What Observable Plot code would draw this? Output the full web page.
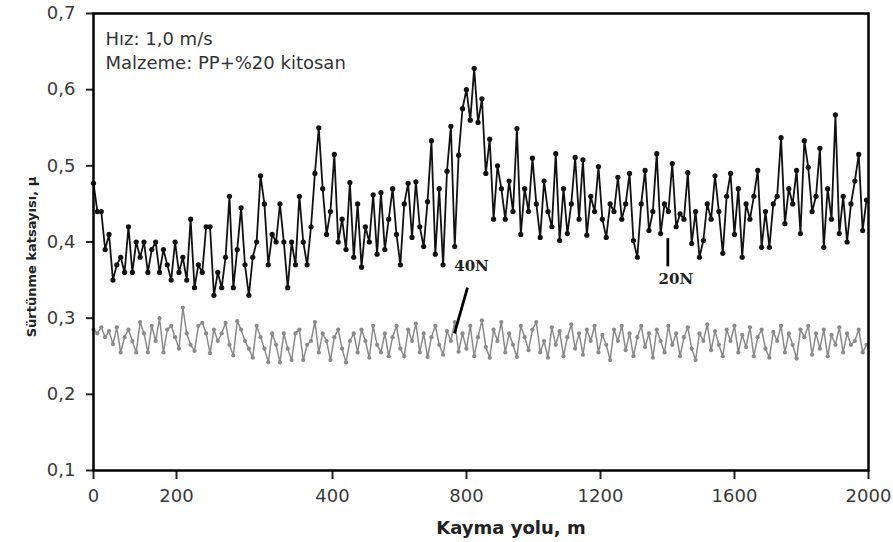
<!DOCTYPE html>
<html><head><meta charset="utf-8">
<script src="https://cdn.jsdelivr.net/npm/d3@7"></script>
<script src="https://cdn.jsdelivr.net/npm/@observablehq/plot@0.6"></script>
<style>
body{margin:0;background:#fff}
#chart svg [aria-label^="x-axis"] line, #chart svg [aria-label^="y-axis"] line,
#chart svg [aria-label="x-axis tick"] path, #chart svg [aria-label="y-axis tick"] path {stroke-width:2px; stroke:#222}
</style>
</head><body><div id="chart"></div>
<script>
// ---- data ----
const xTicks = [0, 200, 400, 800, 1200, 1600, 2000];
const yTicks = [0.1, 0.2, 0.3, 0.4, 0.5, 0.6, 0.7];
const infoLines = ["Hız: 1,0 m/s", "Malzeme: PP+%20 kitosan"];
const xTitle = "Kayma yolu, m";
const yTitle = "Sürtünme katsayısı, μ";

// 20N (black) friction coefficient, evenly spaced samples along the track
const mu20N = [
  0.477,0.44,0.44,0.39,0.41,0.35,0.37,0.38,0.36,0.42,
  0.36,0.40,0.38,0.40,0.36,0.39,0.40,0.36,0.39,0.37,
  0.35,0.40,0.36,0.38,0.35,0.43,0.34,0.37,0.36,0.42,
  0.42,0.33,0.36,0.34,0.38,0.46,0.34,0.39,0.445,0.37,
  0.33,0.38,0.40,0.487,0.45,0.37,0.41,0.40,0.45,0.40,
  0.34,0.40,0.37,0.46,0.40,0.37,0.42,0.49,0.55,0.47,
  0.41,0.44,0.515,0.40,0.43,0.39,0.478,0.38,0.45,0.367,
  0.42,0.40,0.462,0.384,0.465,0.39,0.43,0.47,0.41,0.37,
  0.45,0.477,0.406,0.479,0.42,0.394,0.453,0.533,0.384,0.47,
  0.37,0.493,0.552,0.394,0.514,0.575,0.60,0.56,0.628,0.557,
  0.588,0.49,0.535,0.43,0.50,0.47,0.43,0.48,0.44,0.549,
  0.41,0.47,0.44,0.51,0.45,0.406,0.48,0.44,0.42,0.516,
  0.402,0.47,0.411,0.45,0.511,0.43,0.508,0.409,0.46,0.44,
  0.499,0.43,0.406,0.45,0.44,0.485,0.43,0.45,0.49,0.402,
  0.38,0.45,0.494,0.415,0.44,0.516,0.411,0.45,0.44,0.503,
  0.42,0.437,0.43,0.491,0.398,0.44,0.38,0.402,0.45,0.43,
  0.487,0.44,0.385,0.46,0.49,0.41,0.47,0.38,0.45,0.43,
  0.46,0.494,0.393,0.44,0.393,0.45,0.46,0.537,0.424,0.47,
  0.45,0.494,0.411,0.533,0.498,0.44,0.46,0.523,0.393,0.47,
  0.43,0.567,0.411,0.46,0.40,0.45,0.48,0.515,0.415,0.455
];

// 40N (grey) friction coefficient
const mu40N = [
  0.285,0.28,0.288,0.275,0.283,0.266,0.288,0.255,0.275,0.285,
  0.27,0.255,0.295,0.28,0.255,0.29,0.27,0.30,0.255,0.285,
  0.29,0.275,0.26,0.314,0.28,0.265,0.257,0.29,0.294,0.28,
  0.254,0.285,0.27,0.28,0.294,0.265,0.251,0.296,0.285,0.27,
  0.26,0.248,0.29,0.275,0.26,0.242,0.28,0.265,0.242,0.28,
  0.26,0.245,0.28,0.285,0.245,0.265,0.27,0.295,0.255,0.28,
  0.27,0.245,0.275,0.285,0.26,0.242,0.27,0.28,
  0.255,0.285,0.27,0.248,0.29,0.265,0.255,0.28,0.25,0.275,
  0.29,0.26,0.25,0.285,0.27,0.293,0.255,0.28,0.249,0.275,
  0.29,0.265,0.252,0.283,0.27,0.295,0.256,0.28,0.26,0.29,
  0.25,0.275,0.297,0.262,0.248,0.285,0.27,0.295,0.255,0.28,
  0.265,0.249,0.29,0.275,0.258,0.285,0.295,0.255,0.27,0.248,
  0.288,0.265,0.283,0.25,0.275,0.292,0.26,0.28,0.252,0.285,
  0.27,0.29,0.255,0.278,0.265,0.245,0.285,0.27,0.29,0.258,
  0.28,0.25,0.275,0.29,0.262,0.28,0.248,0.285,0.27,0.255,
  0.29,0.265,0.28,0.25,0.275,0.288,0.26,0.245,0.28,0.27,
  0.292,0.258,0.283,0.265,0.25,0.285,0.27,0.29,0.255,0.278,
  0.262,0.288,0.25,0.275,0.285,0.26,0.248,0.282,0.27,0.29,
  0.255,0.28,0.265,0.247,0.285,0.275,0.29,0.252,0.28,0.26,
  0.285,0.25,0.278,0.265,0.288,0.255,0.28,0.265,0.27,0.285,
  0.255,0.265
];

// series labels and their leader lines (data units)
const seriesLabels = [
  {label: "40N", x: 815, y: 0.368},
  {label: "20N", x: 1425, y: 0.351}
];
const leaders = [
  {x1: 803, y1: 0.340, x2: 764, y2: 0.280},
  {x1: 1401, y1: 0.405, x2: 1401, y2: 0.368}
];

// ---- layout ----
const W = 893, H = 542;
const mL = 93, mR = 25, mT = 13, mB = 72;
// the reference's distance axis is piecewise: 0-200-400 stretched, 400..2000 linear
const xDomain = [0, 200, 400, 2000];
const xRange = [93, 176, 332, 868];

// samples are evenly spaced along the drawn axis
const axisReading = d3.scaleLinear().domain(xRange).range(xDomain);
function toRows(values) {
  const n = values.length;
  const pos = d3.scaleLinear().domain([0, n - 1]).range([xRange[0], 866]);
  return values.map((v, i) => ({x: axisReading(pos(i)), y: v}));
}
const rows20 = toRows(mu20N);
const rows40 = toRows(mu40N);

const fmt = d => d.toFixed(1).replace(".", ",");

const chart = Plot.plot({
  width: W, height: H,
  marginLeft: mL, marginRight: mR, marginTop: mT, marginBottom: mB,
  style: {fontFamily: "'DejaVu Sans', sans-serif", fontSize: "18px", color: "#3a3a3a", background: "#fff"},
  x: {type: "linear", domain: xDomain, range: xRange, ticks: xTicks, tickFormat: d => String(d), tickSize: 9, tickPadding: 10, label: null},
  y: {domain: [0.1, 0.7], ticks: yTicks, tickFormat: fmt, tickSize: 7, tickPadding: 11, label: null},
  marks: [
    Plot.line(rows40, {x: "x", y: "y", stroke: "#8a8a8a", strokeWidth: 1.5}),
    Plot.dot(rows40, {x: "x", y: "y", r: 2.1, fill: "#8a8a8a", stroke: "none"}),
    Plot.line(rows20, {x: "x", y: "y", stroke: "#111", strokeWidth: 1.8}),
    Plot.dot(rows20, {x: "x", y: "y", r: 2.6, fill: "#111", stroke: "none"}),
    Plot.link(leaders, {x1: "x1", y1: "y1", x2: "x2", y2: "y2", stroke: "#000", strokeWidth: 2.8}),
    Plot.text(seriesLabels, {x: "x", y: "y", text: "label", fontFamily: "'DejaVu Serif', serif", fontWeight: "bold", fontSize: 15, fill: "#222"}),
    Plot.text([infoLines.join("\n")], {frameAnchor: "top-left", dx: 12, dy: 15, lineAnchor: "top", textAnchor: "start", lineHeight: 1.3, fontSize: 18, fontFamily: "'DejaVu Sans', sans-serif", fill: "#333"}),
    Plot.text([yTitle], {frameAnchor: "left", rotate: -90, dx: -62, dy: 15, lineAnchor: "middle", textAnchor: "middle", fontFamily: "'DejaVu Sans', sans-serif", fontWeight: "bold", fontSize: 13, fill: "#222"}),
    Plot.text([xTitle], {frameAnchor: "bottom", dx: 30, dy: 58, lineAnchor: "middle", textAnchor: "middle", fontFamily: "'DejaVu Sans', sans-serif", fontWeight: "bold", fontSize: 18, fill: "#222"}),
    Plot.frame({stroke: "#000", strokeWidth: 2.5})
  ]
});
document.getElementById("chart").appendChild(chart);
</script>
</body></html>
